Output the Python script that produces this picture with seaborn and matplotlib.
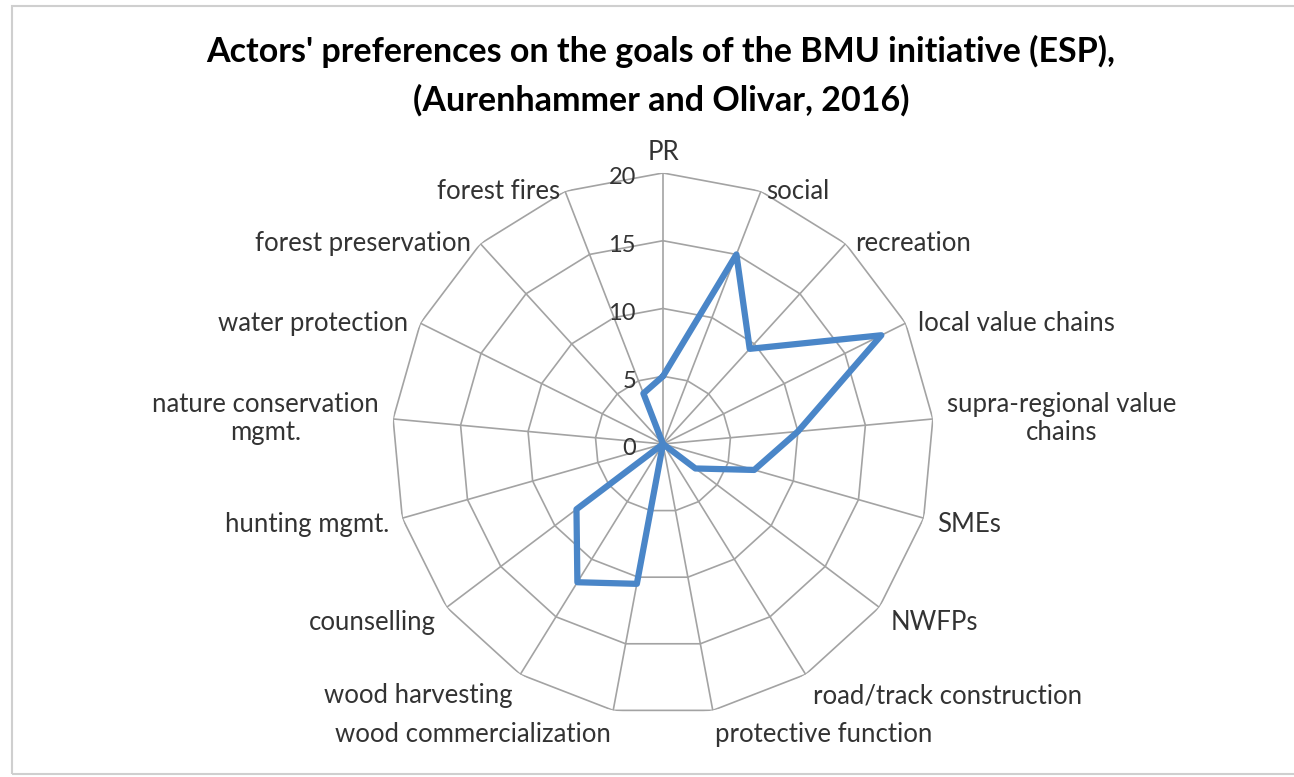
import numpy as np
import pandas as pd
import matplotlib.pyplot as plt
import seaborn as sns
from matplotlib.patches import Rectangle
from matplotlib.transforms import offset_copy

# Goals (clockwise from the top) and the preference scores
categories = ["PR", "social", "recreation", "local value chains",
              "supra-regional value\nchains", "SMEs", "NWFPs",
              "road/track construction", "protective function",
              "wood commercialization", "wood harvesting", "counselling",
              "hunting mgmt.", "nature conservation\nmgmt.", "water protection",
              "forest preservation", "forest fires"]
scores = [5, 15, 9.5, 18, 10, 7, 3, 0, 0, 10.5, 12, 8, 0, 0, 0, 0, 4]
ring_values = [0, 5, 10, 15, 20]

line_color = "#4A86C8"
grid_color = "#A3A3A3"
text_color = "#333333"

sns.set_theme(style="white")
plt.rcParams["font.family"] = ["Lato", "DejaVu Sans"]

fig = plt.figure(figsize=(12.94, 7.77), dpi=100)

# light frame round the chart area, like the exported Excel chart
fig.patches.append(Rectangle((12 / 1294, 3 / 777), 1.05, 768 / 777,
                             transform=fig.transFigure, fill=False,
                             edgecolor="#CFCFCF", lw=1.5))

ax = fig.add_axes([0.3029, 0.0798, 0.4189, 0.6976], projection="polar")
ax.set_theta_offset(np.pi / 2)
ax.set_theta_direction(-1)

n = len(categories)
theta = np.arange(n) * 2 * np.pi / n
theta_closed = np.append(theta, theta[0])

# polygon rings and spokes (Excel radar style)
for r in ring_values[1:]:
    ax.plot(theta_closed, [r] * (n + 1), color=grid_color, lw=1.2, zorder=1)
for t in theta:
    ax.plot([t, t], [0, ring_values[-1]], color=grid_color, lw=1.2, zorder=1)

df = pd.DataFrame({"theta": theta_closed, "score": scores + scores[:1]})
sns.lineplot(data=df, x="theta", y="score", sort=False, estimator=None,
             color=line_color, lw=4.5, ax=ax, zorder=3)

ax.set_ylim(0, 20)
ax.grid(False)
ax.spines["polar"].set_visible(False)
ax.set_xticks([])
ax.set_yticks([])
ax.set_xlabel("")
ax.set_ylabel("")
ax.set_facecolor("none")

# radial value labels, left of the top spoke
for r in ring_values:
    ax.text(0, r, str(r), ha="right", va="center", fontsize=17, color=text_color,
            transform=offset_copy(ax.transData, fig, x=-27, y=-5, units="dots"))

# category labels just outside the outer ring
for t, lab in zip(theta, categories):
    s, c = np.sin(t), np.cos(t)
    if s > 0.05:
        ha = "left"
    elif s < -0.05:
        ha = "right"
    else:
        ha = "center"
    dx = 14 * s
    dy = 25 * c if c < 0 else 0
    if abs(s) < 0.05:
        dy = 20
    ax.text(t, ring_values[-1], lab, ha=ha, va="center", multialignment="center",
            fontsize=18.5, color=text_color, linespacing=1.15,
            transform=offset_copy(ax.transData, fig, x=dx, y=dy, units="dots"))

fig.text(0.5108, 0.902,
         "Actors' preferences on the goals of the BMU initiative (ESP),\n"
         "(Aurenhammer and Olivar, 2016)",
         ha="center", va="center", fontsize=24.5, fontweight="bold",
         color="black", linespacing=1.6)

fig.savefig("out.png", dpi=100)
